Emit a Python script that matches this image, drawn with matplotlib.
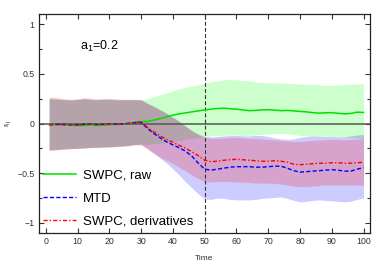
import matplotlib
matplotlib.use("Agg")
import matplotlib.pyplot as plt
import numpy as np

plt.rcParams['font.family'] = ['Liberation Sans', 'DejaVu Sans']
plt.rcParams['mathtext.default'] = 'regular'

time = [1] + list(range(2, 101, 2))

raw_mean = [-0.01, -0.01, -0.012, -0.015, -0.018, -0.02, -0.02, -0.016, -0.02, -0.015,
            -0.012, -0.01, -0.005, 0.0, 0.012, 0.02, 0.022, 0.035, 0.05, 0.068,
            0.085, 0.098, 0.108, 0.118, 0.128, 0.138, 0.145, 0.152, 0.155, 0.15,
            0.145, 0.138, 0.13, 0.132, 0.138, 0.14, 0.135, 0.13, 0.132, 0.128,
            0.122, 0.118, 0.11, 0.105, 0.108, 0.11, 0.103, 0.098, 0.102, 0.115, 0.112]
raw_upper = [0.25, 0.25, 0.245, 0.24, 0.235, 0.24, 0.25, 0.245, 0.24, 0.245,
             0.245, 0.24, 0.24, 0.24, 0.24, 0.24, 0.25, 0.27, 0.29, 0.31,
             0.33, 0.35, 0.365, 0.38, 0.39, 0.405, 0.42, 0.43, 0.44, 0.445,
             0.44, 0.435, 0.43, 0.42, 0.415, 0.41, 0.41, 0.41, 0.405, 0.40,
             0.40, 0.395, 0.395, 0.39, 0.385, 0.385, 0.39, 0.39, 0.395, 0.40, 0.40]
raw_lower = [-0.26, -0.26, -0.255, -0.25, -0.25, -0.25, -0.245, -0.24, -0.24, -0.235,
             -0.235, -0.23, -0.225, -0.22, -0.215, -0.21, -0.21, -0.205, -0.2, -0.19,
             -0.18, -0.17, -0.16, -0.15, -0.14, -0.13, -0.125, -0.12, -0.12, -0.115,
             -0.115, -0.12, -0.12, -0.115, -0.11, -0.105, -0.10, -0.10, -0.10, -0.11,
             -0.12, -0.125, -0.125, -0.12, -0.125, -0.13, -0.135, -0.14, -0.14, -0.145, -0.15]

mtd_mean = [-0.012, -0.01, -0.008, -0.01, -0.013, -0.012, -0.008, -0.006, -0.01, -0.008,
            -0.005, -0.006, -0.004, 0.002, 0.01, 0.012, -0.05, -0.1, -0.145, -0.185,
            -0.215, -0.245, -0.28, -0.33, -0.40, -0.46, -0.47, -0.46, -0.45, -0.44,
            -0.435, -0.435, -0.435, -0.44, -0.44, -0.435, -0.43, -0.43, -0.45, -0.475,
            -0.49, -0.485, -0.48, -0.475, -0.47, -0.465, -0.47, -0.48, -0.48, -0.46, -0.445]
mtd_upper = [0.25, 0.25, 0.245, 0.24, 0.24, 0.245, 0.25, 0.245, 0.24, 0.245,
             0.245, 0.24, 0.24, 0.24, 0.24, 0.24, 0.205, 0.175, 0.14, 0.105,
             0.065, 0.025, -0.025, -0.07, -0.105, -0.13, -0.135, -0.13, -0.125, -0.12,
             -0.12, -0.125, -0.125, -0.12, -0.12, -0.13, -0.145, -0.155, -0.16, -0.155,
             -0.14, -0.13, -0.125, -0.125, -0.13, -0.13, -0.135, -0.135, -0.125, -0.115, -0.11]
mtd_lower = [-0.265, -0.265, -0.26, -0.255, -0.25, -0.25, -0.245, -0.24, -0.24, -0.235,
             -0.235, -0.23, -0.225, -0.22, -0.21, -0.21, -0.25, -0.3, -0.35, -0.4,
             -0.46, -0.52, -0.59, -0.65, -0.71, -0.76, -0.765, -0.75, -0.755, -0.765,
             -0.77, -0.77, -0.77, -0.765, -0.755, -0.75, -0.745, -0.74, -0.755, -0.775,
             -0.79, -0.785, -0.775, -0.77, -0.775, -0.78, -0.785, -0.79, -0.785, -0.765, -0.75]

der_mean = [-0.01, -0.012, -0.01, -0.008, -0.012, -0.015, -0.01, -0.005, -0.008, -0.01,
            -0.006, -0.004, -0.005, 0.0, 0.012, 0.015, -0.04, -0.085, -0.125, -0.16,
            -0.19, -0.22, -0.25, -0.285, -0.325, -0.37, -0.385, -0.38, -0.37, -0.365,
            -0.36, -0.365, -0.37, -0.375, -0.38, -0.38, -0.375, -0.38, -0.39, -0.41,
            -0.415, -0.41, -0.405, -0.40, -0.40, -0.395, -0.395, -0.40, -0.40, -0.395, -0.39]
der_upper = [0.265, 0.265, 0.26, 0.25, 0.245, 0.25, 0.26, 0.255, 0.25, 0.25,
             0.255, 0.25, 0.245, 0.245, 0.245, 0.24, 0.2, 0.17, 0.135, 0.1,
             0.06, 0.02, -0.03, -0.075, -0.115, -0.14, -0.15, -0.15, -0.145, -0.14,
             -0.14, -0.145, -0.15, -0.15, -0.155, -0.16, -0.165, -0.17, -0.175, -0.18,
             -0.18, -0.175, -0.17, -0.165, -0.165, -0.16, -0.16, -0.165, -0.16, -0.155, -0.15]
der_lower = [-0.27, -0.27, -0.265, -0.26, -0.255, -0.25, -0.25, -0.245, -0.24, -0.24,
             -0.235, -0.235, -0.23, -0.225, -0.215, -0.215, -0.26, -0.3, -0.34, -0.37,
             -0.405, -0.44, -0.48, -0.52, -0.555, -0.585, -0.59, -0.585, -0.585, -0.585,
             -0.59, -0.59, -0.595, -0.6, -0.6, -0.6, -0.605, -0.61, -0.62, -0.63,
             -0.635, -0.635, -0.63, -0.625, -0.62, -0.62, -0.62, -0.62, -0.62, -0.62, -0.62]

yticks = [-1, -0.5, 0, 0.5, 1]
ytick_labels = ['\u22121', '\u22120.5', '0', '0.5', '1']

fig = plt.figure(figsize=(3.74, 2.64), dpi=100)
ax = fig.add_axes([0.104, 0.117, 0.885, 0.83])

ax.fill_between(time, raw_lower, raw_upper, color=(0, 1, 0), alpha=0.2, lw=0)
ax.fill_between(time, mtd_lower, mtd_upper, color=(0, 0, 1), alpha=0.2, lw=0)
ax.fill_between(time, der_lower, der_upper, color=(1, 0, 0), alpha=0.2, lw=0)

ax.axhline(0, color='#555555', lw=1.1, zorder=2)
ax.axvline(50, color='#333333', lw=0.8, ls=(0, (3.5, 2)), zorder=2)

ax.plot(time, raw_mean, color='#00e000', lw=1.1, label='SWPC, raw', zorder=3)
ax.plot(time, mtd_mean, color='#0000ff', lw=1.0, dashes=(3, 1.6), label='MTD', zorder=3)
ax.plot(time, der_mean, color='#ff0000', lw=1.0, dashes=(3, 1.5, 1, 1.5),
        label='SWPC, derivatives', zorder=3)

ax.text(10.8, 0.775, 'a$_1$=0.2', fontsize=9, va='center', ha='left')

ax.set_xlim(-2.2, 102)
ax.set_ylim(-1.105, 1.105)
ax.set_xticks(range(0, 101, 10))
ax.set_yticks(yticks)
ax.set_yticklabels(ytick_labels)
ax.set_yticks(np.arange(-1, 1.01, 0.25), minor=True)
ax.tick_params(which='both', direction='in', top=True, right=True,
               labelsize=6.3, colors='#333333', width=0.8)
ax.tick_params(which='major', length=3.5, pad=3)
ax.tick_params(which='minor', length=2)
for s in ax.spines.values():
    s.set_color('#222222')
    s.set_linewidth(0.9)

ax.set_xlabel('Time', fontsize=6, color='#333333')
ax.xaxis.set_label_coords(0.5, -0.1)
ax.set_ylabel('r$_{ij}$', fontsize=6, color='#333333')
ax.yaxis.set_label_coords(-0.078, 0.5)

ax.legend(loc='lower left', bbox_to_anchor=(0.0, 0.008), frameon=False,
          fontsize=9.5, handlelength=2.5, handletextpad=0.55, labelspacing=0.8,
          borderaxespad=0.0, borderpad=0.3)

fig.savefig('out.png', dpi=100)
